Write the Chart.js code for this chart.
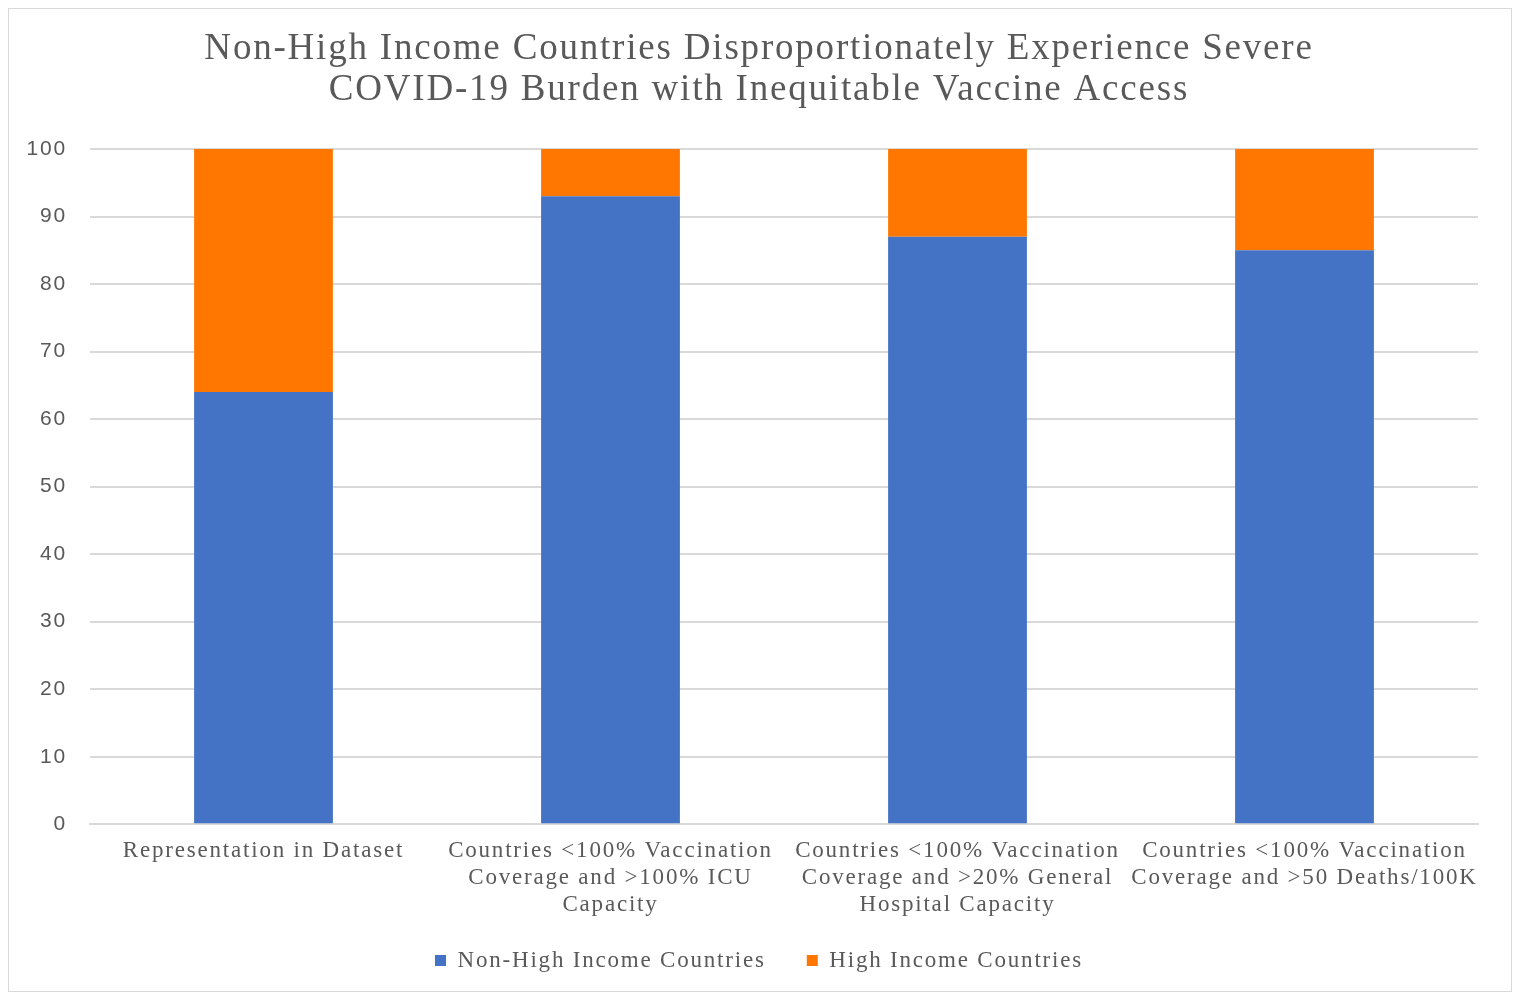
<!DOCTYPE html>
<html>
<head>
<meta charset="utf-8">
<script src="https://cdn.jsdelivr.net/npm/chart.js@4/dist/chart.umd.min.js"></script>
<style>
  html, body { margin: 0; padding: 0; background: #fff; }
  #wrap { position: relative; width: 1518px; height: 996px; }
  #frame { position: absolute; left: 8px; top: 8px; width: 1504px; height: 984px; border: 1px solid #d9d9d9; box-sizing: border-box; }
  canvas { position: absolute; left: 0; top: 0; }
</style>
</head>
<body>
<div id="wrap">
  <div id="frame"></div>
  <canvas id="chart" width="1518" height="996"></canvas>
</div>
<script>
// categories (wrapped like the original axis labels)
const categories = [
  ['Representation in Dataset'],
  ['Countries <100% Vaccination', 'Coverage and >100% ICU', 'Capacity'],
  ['Countries <100% Vaccination', 'Coverage and >20% General', 'Hospital Capacity'],
  ['Countries <100% Vaccination', 'Coverage and >50 Deaths/100K']
];
const seriesNames = ['Non-High Income Countries', 'High Income Countries'];
const nonHighIncome = [64, 93, 87, 85];
const highIncome = [36, 7, 13, 15];
const yTicks = [0, 10, 20, 30, 40, 50, 60, 70, 80, 90, 100];

const serif = '"Liberation Serif", "DejaVu Serif", serif';
const sans = '"Liberation Sans", Arial, sans-serif';

// the original text is rendered loosely spaced
const spacing = {
  id: 'spacing',
  beforeUpdate(chart) { chart.ctx.letterSpacing = '1.8px'; },
  beforeDraw(chart) { chart.ctx.letterSpacing = '1.8px'; }
};

new Chart(document.getElementById('chart').getContext('2d'), {
  type: 'bar',
  data: {
    labels: categories,
    datasets: [
      { label: seriesNames[0], data: nonHighIncome, backgroundColor: '#4472C4', borderWidth: 0 },
      { label: seriesNames[1], data: highIncome, backgroundColor: '#FF7700', borderWidth: 0 }
    ]
  },
  plugins: [spacing],
  options: {
    responsive: false,
    animation: false,
    layout: { padding: { left: 0, right: 0, top: 0, bottom: 14 } },
    datasets: { bar: { categoryPercentage: 0.8, barPercentage: 0.5 } },
    plugins: {
      title: {
        display: true,
        text: ['Non-High Income Countries Disproportionately Experience Severe', 'COVID-19 Burden with Inequitable Vaccine Access'],
        color: '#595959',
        font: { family: serif, size: 37, weight: 'normal', lineHeight: 1.108 },
        padding: { top: 29, bottom: 38 }
      },
      legend: {
        position: 'bottom',
        labels: {
          color: '#595959',
          font: { family: serif, size: 23 },
          boxWidth: 11,
          boxHeight: 11,
          padding: 26,
          // wider gap between the two entries than the vertical padding
          generateLabels(chart) {
            const items = Chart.defaults.plugins.legend.labels.generateLabels(chart);
            items[0].text = items[0].text + '  ';
            return items;
          }
        }
      },
      tooltip: { enabled: false }
    },
    scales: {
      x: {
        stacked: true,
        grid: { display: false },
        border: { display: true, color: '#d9d9d9', width: 2 },
        ticks: {
          color: '#595959',
          font: { family: serif, size: 23, lineHeight: 1.17 },
          maxRotation: 0,
          autoSkip: false,
          padding: 5
        }
      },
      y: {
        stacked: true,
        min: 0,
        max: 100,
        afterBuildTicks: (scale) => { scale.ticks = yTicks.map(v => ({ value: v })); },
        afterFit: (scale) => { scale.width = 90; },
        grid: { color: '#d9d9d9', lineWidth: 2, drawTicks: false },
        border: { display: false },
        ticks: {
          color: '#595959',
          font: { family: sans, size: 21 },
          padding: 23
        }
      },
      // empty right-hand axis: keeps the plot margin without shifting the title
      yRight: {
        position: 'right',
        afterFit: (scale) => { scale.width = 40; },
        grid: { display: false },
        border: { display: false },
        ticks: { display: false }
      }
    }
  }
});
</script>
</body>
</html>
